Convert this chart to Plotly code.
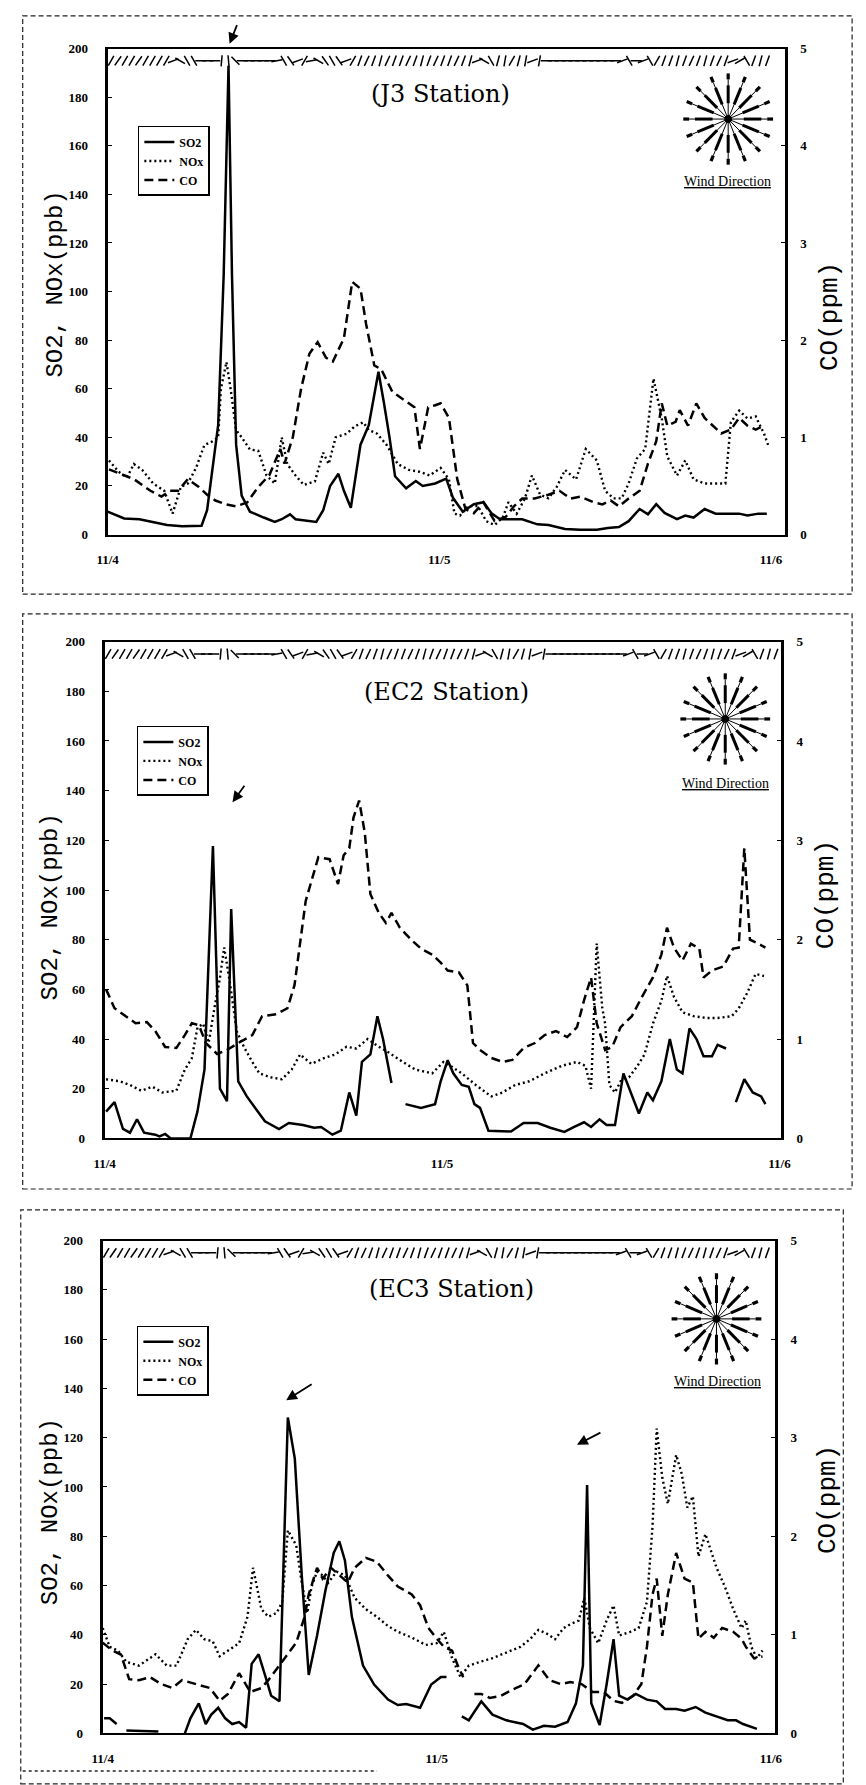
import math
import plotly.graph_objects as go

W, H = 866, 1785

# ---------------- data (hours from 11/4 00:00) ----------------
hour_ticks = [0, 24, 48]
date_labels = ['11/4', '11/5', '11/6']
station_names = ['(J3 Station)', '(EC2 Station)', '(EC3 Station)']

# --- J3 ---
j3_so2_t = [0, 1.2, 2.3, 3.3, 4.3, 5.4, 6.8, 7.2, 8.0, 8.4, 8.75, 9.0, 9.3, 9.7, 10.3, 11.3, 12.1, 12.6, 13.2, 13.6,
            14.4, 15.1, 15.6, 16.1, 16.7, 17.1, 17.6, 18.1, 18.3, 18.9, 19.6, 20.0, 20.4, 20.8, 21.6, 22.3, 22.8, 23.7,
            24.5, 25.0, 25.7, 26.5, 27.2, 27.8, 28.4, 30.0, 31.1, 31.9, 33.1, 34.2, 35.4, 36.2, 37.0, 37.7, 38.5, 39.1,
            39.7, 40.3, 41.2, 41.8, 42.4, 43.2, 44.0, 44.7, 45.7, 46.3, 47.1, 47.7]
j3_so2 = [9.4, 6.6, 6.3, 5.2, 3.9, 3.4, 3.6, 10, 45, 107, 193, 107, 37, 16, 9.4, 7, 5.2, 6.3, 8.3, 6.3,
          5.8, 5.2, 10, 20, 25, 18, 11, 29, 37, 45, 67, 54, 40, 24, 19, 22, 20, 21,
          23, 15, 9.4, 12.5, 13.3, 8.6, 6.3, 6.3, 4.2, 3.9, 2.3, 2, 2, 2.7, 3.1, 5.5, 10.5, 8.3,
          12.5, 8.9, 6.3, 7.8, 7, 10.5, 8.6, 8.6, 8.6, 7.8, 8.6, 8.6]
j3_nox_t = [0.1, 0.8, 1.4, 1.9, 2.5, 3.3, 4.1, 4.7, 5.3, 5.8, 6.4, 7.0, 7.6, 8.0, 8.2, 8.6, 8.9, 9.3, 9.7, 10.3,
            10.9, 11.5, 12.1, 12.6, 13.0, 13.6, 14.2, 15.0, 15.6, 16.0, 16.5, 17.3, 17.9, 18.5, 18.9, 19.5, 20.2, 21.0,
            21.8, 22.6, 23.3, 24.1, 24.7, 25.1, 25.5, 26.1, 26.8, 27.4, 28.0, 28.6, 29.0, 29.6, 30.2, 30.7, 31.3, 31.9,
            32.5, 33.1, 33.9, 34.6, 35.4, 36.0, 36.6, 37.2, 37.7, 38.3, 38.9, 39.5, 40.1, 40.5, 41.2, 41.8, 42.4, 43.2,
            44.0, 44.7, 45.1, 45.7, 46.3, 46.9, 47.5, 47.8]
j3_nox = [30.5, 25.8, 23.5, 29, 26.6, 21, 18, 8.6, 19.6, 21, 27.4, 36.8, 38.4, 40, 60, 71, 60, 43, 40, 35,
          34.5, 24.3, 21, 40, 29, 24.3, 20.4, 21.9, 33.7, 29, 40, 41.5, 44.6, 46.2, 43, 41.5, 36.8, 29,
          26.6, 25.8, 24.3, 27.4, 22.7, 8.6, 7.8, 11.7, 11.7, 5.5, 3.9, 7, 13.3, 8.6, 14.9, 24.3, 16.4, 14.9,
          19.6, 26.6, 22.7, 35.2, 30.5, 18, 14.9, 14.9, 21, 31.3, 35.2, 64.2, 47.8, 32.1, 24.3, 30.5, 22.7, 21,
          21, 21, 46.2, 51, 47.8, 48.6, 41.5, 36.8]
j3_co_t = [0.1, 0.8, 1.9, 3.1, 3.9, 4.5, 5.1, 5.8, 6.6, 7.2, 7.8, 8.6, 9.3, 10.1, 10.9, 11.7, 12.5, 12.8, 13.4, 14.0,
           14.6, 15.2, 15.8, 16.3, 17.1, 17.7, 18.3, 18.7, 19.3, 19.8, 20.6, 21.4, 22.2, 22.6, 23.2, 23.7, 24.1, 24.7,
           25.3, 25.9, 26.5, 27.2, 28.0, 28.8, 29.4, 30.0, 30.9, 31.9, 32.7, 33.5, 34.2, 35.2, 35.8, 36.4, 37.0, 37.7,
           38.5, 39.1, 39.7, 40.1, 40.5, 41.1, 41.4, 42.0, 42.6, 43.2, 43.8, 44.4, 45.1, 45.7, 46.3, 46.9, 47.5]
j3_co = [0.67, 0.63, 0.57, 0.45, 0.39, 0.45, 0.45, 0.57, 0.49, 0.41, 0.35, 0.31, 0.29, 0.33, 0.49, 0.61, 0.88, 0.73, 1.0, 1.5,
         1.86, 1.98, 1.82, 1.78, 2.02, 2.6, 2.53, 2.17, 1.74, 1.7, 1.47, 1.39, 1.31, 0.88, 1.31, 1.33, 1.35, 1.2,
         0.57, 0.26, 0.22, 0.33, 0.14, 0.18, 0.29, 0.37, 0.37, 0.41, 0.45, 0.37, 0.39, 0.33, 0.31, 0.35, 0.29, 0.37,
         0.45, 0.73, 0.96, 1.35, 1.12, 1.16, 1.28, 1.12, 1.35, 1.2, 1.12, 1.04, 1.08, 1.2, 1.12, 1.08, 1.12]

# --- EC2 ---
ec2_so2_t = [0.1, 0.7, 1.3, 1.8, 2.3, 2.8, 3.6, 3.9, 4.3, 4.7, 6.1, 6.6, 7.1, 7.7, 8.2, 8.7, 9.0, 9.5, 10.1, 10.7,
             11.4, 12.4, 13.1, 14.1, 14.9, 15.4, 16.2, 16.8, 17.4, 17.9, 18.3, 18.9, 19.4, 19.8, 20.4, None,
             21.4, 22.5, 23.5, 23.9, 24.4, 24.8, 25.4, 25.9, 26.3, 26.7, 27.3, 28.1, 28.9, 29.8, 30.8, 31.7, 32.7,
             33.4, 34.1, 34.6, 35.2, 35.7, 36.3, 36.9, 37.5, 38.0, 38.6, 39.0, 39.6, 40.2, 40.7, 41.1, 41.6, 42.1,
             42.6, 43.2, 43.6, 44.2, None, 44.9, 45.5, 46.1, 46.7, 47.0]
ec2_so2 = [10.8, 14.6, 3.8, 2.3, 7.7, 2.3, 1.5, 0.8, 1.8, 0, 0, 10.8, 27.7, 117.7, 20, 15, 92.3, 23, 17, 12.3,
           6.9, 3.8, 6.2, 5.4, 4.3, 4.6, 1.5, 3.1, 18.5, 9.2, 30.8, 33.8, 49.2, 40, 22.3, None,
           13.8, 12.3, 13.8, 23, 31.5, 26.2, 21.5, 20.8, 13.8, 12.3, 3.1, 2.8, 2.8, 6.2, 6.2, 4.3, 2.6,
           4.6, 6.5, 4.6, 7.7, 5.4, 5.4, 26.2, 16.9, 10, 18.5, 15.4, 23, 40, 27.7, 26.2, 44.3, 40,
           33.1, 33.1, 37.7, 36.2, None, 14.6, 23.8, 18.5, 16.9, 13.8]
ec2_nox_t = [0.1, 1.1, 1.8, 2.6, 3.4, 4.1, 5.1, 5.7, 6.2, 6.6, 7.0, 7.4, 7.8, 8.2, 8.5, 8.9, 9.4, 9.9, 10.5, 11.0,
             11.8, 12.6, 13.3, 13.9, 14.7, 15.6, 16.4, 17.2, 17.9, 18.7, 19.5, 20.2, 21.2, 22.1, 23.3, 24.1, 24.6,
             25.4, 26.4, 27.5, 28.3, 29.2, 30.2, 31.3, 32.5, 33.6, 34.2, 34.6, 35.0, 35.4, 35.6, 35.9, 36.3, 36.7,
             37.3, 37.9, 38.4, 39.0, 39.6, 40.0, 40.5, 41.1, 41.9, 42.8, 43.6, 44.6, 45.1, 45.7, 46.3, 46.9]
ec2_nox = [23.8, 23, 21.5, 19.2, 20.8, 18.5, 19.2, 27.7, 32.3, 44.6, 46.2, 38.5, 52.3, 64.6, 76.9, 63, 43, 36.9, 30.8, 26.2,
           24.6, 23.8, 27.7, 33.8, 30, 32.3, 33.8, 36.9, 36.2, 40, 36.9, 34.6, 30.8, 27.7, 26.2, 30.8, 29.2,
           26.2, 21.5, 16.9, 18.5, 21.5, 23, 26.2, 29.2, 30.8, 29.2, 20, 78.5, 52.3, 46.2, 21.5, 18.5, 23,
           24.6, 29.2, 33.8, 46.2, 55.4, 65.4, 56.9, 50.8, 49.2, 48.5, 48.5, 49.2, 52.3, 58.5, 66.2, 65.4]
ec2_co_t = [0.1, 0.7, 1.5, 2.2, 3.0, 3.6, 4.3, 5.1, 5.7, 6.2, 6.7, 7.2, 8.0, 8.7, 9.5, 10.5, 11.2, 12.2, 13.0, 13.5,
            14.3, 14.9, 15.2, 16.0, 16.6, 17.0, 17.4, 17.7, 18.1, 18.5, 18.9, 19.5, 20.0, 20.4, 21.0, 21.8, 22.5,
            23.3, 23.9, 24.4, 25.2, 25.8, 26.2, 26.7, 27.5, 28.3, 29.0, 29.8, 30.6, 31.3, 32.1, 32.9, 33.6, 34.1,
            34.6, 35.0, 35.6, 36.1, 36.7, 37.5, 38.2, 39.0, 39.6, 40.0, 40.5, 41.1, 41.7, 42.3, 42.6, 43.2, 44.0,
            44.7, 45.1, 45.5, 45.9, 46.5, 47.0]
ec2_co = [1.5, 1.31, 1.23, 1.16, 1.17, 1.08, 0.92, 0.91, 1.04, 1.16, 1.14, 0.96, 0.85, 0.89, 0.96, 1.04, 1.23, 1.25, 1.31, 1.54,
          2.39, 2.69, 2.83, 2.81, 2.56, 2.85, 2.92, 3.23, 3.4, 3.08, 2.46, 2.27, 2.17, 2.27, 2.12, 2.0, 1.91,
          1.85, 1.77, 1.69, 1.67, 1.54, 0.96, 0.89, 0.81, 0.77, 0.79, 0.91, 0.96, 1.04, 1.08, 1.02, 1.12, 1.39,
          1.62, 1.16, 0.89, 0.92, 1.12, 1.23, 1.42, 1.62, 1.85, 2.12, 1.92, 1.79, 1.96, 1.91, 1.62, 1.69, 1.73,
          1.91, 1.92, 2.92, 2.0, 1.96, 1.92]

# --- EC3 ---
ec3_so2_t = [0.1, 0.5, 1.0, None, 1.7, 2.5, 4.0, None,
             5.9, 6.3, 6.9, 7.4, 7.8, 8.3, 8.8, 9.3, 9.8, 10.3, 10.7, 11.2, 11.7, 12.1, 12.7, 13.3, 13.8, 14.3,
             14.8, 15.4, 16.0, 16.6, 17.0, 17.4, 17.9, 18.7, 19.5, 20.5, 21.2, 21.8, 22.8, 23.6, 24.3, 24.7, None,
             25.8, 26.3, 27.2, 28.0, 29.0, 30.2, 30.9, 31.7, 32.5, 33.4, 34.0, 34.5, 34.8, 35.1, 35.7, 36.2, 36.7,
             37.1, 37.7, 38.3, 39.1, 39.8, 40.4, 41.2, 41.8, 42.6, 43.3, 44.1, 44.9, 45.5, 46.0, 47.0]
ec3_so2 = [6.1, 6.1, 3.8, None, 1.2, 1.0, 0.8, None,
           0, 6.1, 12.2, 3.8, 7.6, 10.4, 6.1, 3.8, 4.6, 2.3, 28.2, 32.1, 22.9, 15.3, 13, 128.2, 111.5, 64.1,
           23.7, 39.7, 58, 73.3, 77.9, 70.2, 47.3, 27.5, 19.8, 13.7, 11.5, 11.9, 10.4, 19.8, 22.9, 22.9, None,
           6.9, 5.3, 13, 7.6, 5.3, 3.8, 1.5, 3.1, 2.7, 4.6, 12.2, 27.5, 100.8, 12.2, 3.4, 19.8, 38.2,
           15.3, 13.7, 16, 13.7, 13, 9.9, 9.9, 9.2, 10.7, 8.4, 6.9, 5.3, 5.3, 3.8, 1.8]
ec3_nox_t = [0, 0.5, 1.1, 1.7, 2.6, 3.8, 4.6, 5.3, 6.1, 6.7, 7.3, 7.9, 8.4, 9.0, 9.8, 10.4, 10.8, 11.4, 11.9, 12.5,
             12.9, 13.3, 13.9, 14.3, 14.7, 15.0, 15.4, 15.8, 16.2, 16.8, 17.4, 18.1, 18.9, 19.7, 20.5, 21.2, 22.2,
             23.2, 24.0, 24.5, 25.1, 25.7, 26.3, 27.1, 28.0, 29.0, 30.0, 30.7, 31.3, 31.9, 32.5, 33.1, 33.6, 34.2,
             34.6, 35.0, 35.6, 36.2, 36.7, 37.1, 37.9, 38.5, 39.1, 39.5, 39.8, 40.2, 40.6, 41.2, 41.6, 42.0, 42.4,
             42.8, 43.3, 44.1, 44.7, 45.3, 45.9, 46.2, 46.6, 47.0, 47.4]
ec3_nox = [42.7, 35.1, 33.6, 29, 27.5, 32.1, 27.5, 27.5, 38.2, 42, 38.2, 37.4, 31.3, 33.6, 36.6, 47.3, 67.2, 50.4, 47.3, 48.9,
           53.4, 82.4, 76.3, 61.1, 48.9, 59.5, 65.6, 64.1, 61.1, 65.6, 64.1, 55, 50.4, 47.3, 43.5, 41.2, 38.9,
           35.9, 36.6, 41.2, 30.5, 22.9, 27.5, 29, 30.5, 32.8, 35.1, 38.2, 42, 40.5, 38.2, 42.7, 44.3, 45.8,
           55, 42.7, 36.6, 45.8, 51.9, 39.7, 41.2, 42.7, 53.4, 84, 123.7, 103.8, 93.1, 113, 105.3, 91.6, 96.2,
           71.8, 80.9, 67.2, 59.5, 50.4, 42.7, 45.8, 35.1, 30.5, 33.6]
ec3_co_t = [0, 0.7, 1.3, 1.9, 2.6, 3.4, 4.2, 5.0, 5.7, 6.7, 7.7, 8.4, 9.0, 9.8, 10.6, 11.4, 11.9, 12.7, 13.5, 13.9,
            14.5, 14.8, 15.4, 15.8, 16.4, 17.0, 17.6, 18.1, 18.9, 19.7, 20.5, 21.2, 22.2, 22.8, 23.4, 24.0, 24.5,
            25.1, 25.5, 25.9, None,
            26.7, 27.2, 27.8, 28.6, 29.4, 30.3, 31.3, 32.1, 32.9, 33.6, 34.4, 35.2, 36.0, 36.7, 37.3, 38.1, 38.7,
            39.1, 39.5, 39.8, 40.2, 40.6, 41.2, 41.8, 42.4, 42.8, 43.3, 43.9, 44.5, 45.3, 45.9, 46.2, 46.8, 47.4]
ec3_co = [0.92, 0.84, 0.8, 0.55, 0.54, 0.57, 0.5, 0.46, 0.54, 0.5, 0.46, 0.33, 0.4, 0.61, 0.42, 0.46, 0.54, 0.69, 0.84, 0.92,
          1.18, 1.41, 1.68, 1.57, 1.68, 1.6, 1.53, 1.68, 1.78, 1.74, 1.6, 1.49, 1.41, 1.3, 1.07, 0.96, 0.88,
          0.84, 0.69, 0.57, None,
          0.4, 0.4, 0.36, 0.38, 0.44, 0.5, 0.69, 0.54, 0.5, 0.52, 0.5, 0.42, 0.42, 0.33, 0.31, 0.38, 0.5,
          0.88, 1.41, 1.57, 0.99, 1.41, 1.83, 1.57, 1.53, 0.96, 1.03, 0.97, 1.07, 1.03, 0.96, 0.88, 0.76, 0.78]

# wind direction strokes along the top (half-hourly), angle of stroke in degrees
wind_angle = [30, 35, 30, 30, 35, 30, 30, 30, 30, 70, -60, -30, -30, 90, 90, 90, 5, -5, -45,
              90, 90, 90, 90, 90, 80, -30, -35, 70, 30, 80, -60, -35, -30, -35, 70, 30,
              20, 25, 20, 15, 25, 20, 20, 25, 20, 15, 20, 25, 20, 20, 25, 20, 15, 70, -60, -30,
              15, 10, 30, 15, 10, 70, 10, 90, 90, 90, 90, 90, 90, 90, 90, 90, 90, 90,
              70, -30, 90, 70, -30, 30, 20, 20, 15, 20, 25, 20, 15, 20, 25, 20, 70, 60, -30, 20, 15, 20]
wind_t = [0.25 + 0.5 * i for i in range(len(wind_angle))]
WIND_ROW = 195

series = [
    dict(so2=(j3_so2_t, j3_so2), nox=(j3_nox_t, j3_nox), co=(j3_co_t, j3_co), xr=[0, 49]),
    dict(so2=(ec2_so2_t, ec2_so2), nox=(ec2_nox_t, ec2_nox), co=(ec2_co_t, ec2_co), xr=[0, 48.1]),
    dict(so2=(ec3_so2_t, ec3_so2), nox=(ec3_nox_t, ec3_nox), co=(ec3_co_t, ec3_co), xr=[0, 48.3]),
]


# ---------------- layout (pixel geometry) ----------------
def PX(x):
    return x / W


def PY(y):
    return 1 - y / H


geom = [
    dict(plot=(99, 42, 793, 532), title=(440, 88), rose=(735, 113), wtxt=(734, 176), leg=(130, 120),
         ltitle=(46, 279), rtitle=(840, 312), arrows=[(224, 37, 8, -20)], box=(12, 9, 862, 592)),
    dict(plot=(96, 640, 789, 1141), title=(446, 691), rose=(732, 718), wtxt=(732, 783), leg=(129, 725),
         ltitle=(40, 908), rtitle=(836, 895), arrows=[(227, 802, 13, -18)], box=(12, 612, 862, 1192)),
    dict(plot=(94, 1244, 783, 1741), title=(451, 1293), rose=(723, 1323), wtxt=(724, 1386), leg=(129, 1330),
         ltitle=(40, 1518), rtitle=(838, 1505), arrows=[(282, 1405, 27, -17), (580, 1450, 25, -13)],
         box=(10, 1213, 853, 1792)),
]

fig = go.Figure()
serif = 'Liberation Serif'
tickfont = dict(family=serif, size=13, color='black', weight='bold')
legnames = ['legend', 'legend2', 'legend3']
shapes = []
annotations = []

for i, (s, g) in enumerate(zip(series, geom)):
    n = i + 1
    xa = 'x' if n == 1 else f'x{n}'
    ya = 'y' if n == 1 else f'y{n}'
    yr = f'y{n + 3}'
    lg = legnames[i]
    fig.add_trace(go.Scatter(x=s['so2'][0], y=s['so2'][1], name='SO2', mode='lines',
                             line=dict(color='black', width=2.5), xaxis=xa, yaxis=ya, legend=lg,
                             connectgaps=False))
    fig.add_trace(go.Scatter(x=s['nox'][0], y=s['nox'][1], name='NOx', mode='lines',
                             line=dict(color='black', width=2.4, dash='2px,3px'), xaxis=xa, yaxis=ya, legend=lg))
    fig.add_trace(go.Scatter(x=s['co'][0], y=s['co'][1], name='CO', mode='lines',
                             line=dict(color='black', width=2.5, dash='9px,5px'), xaxis=xa, yaxis=yr, legend=lg,
                             connectgaps=False))
    fig.add_trace(go.Scatter(x=wind_t, y=[WIND_ROW] * len(wind_t), mode='markers', showlegend=False,
                             marker=dict(symbol='line-ns', size=8, angle=wind_angle,
                                         line=dict(width=1.5, color='black')),
                             xaxis=xa, yaxis=ya, hoverinfo='skip'))

    x0, y0, x1, y1 = g['plot']
    xkey = 'xaxis' if n == 1 else f'xaxis{n}'
    ykey = 'yaxis' if n == 1 else f'yaxis{n}'
    fig.layout[xkey] = dict(domain=[PX(x0), PX(x1)], range=s['xr'], anchor=ya,
                            tickvals=hour_ticks, ticktext=date_labels, ticks='',
                            showline=True, linewidth=2, linecolor='black', mirror=True,
                            showgrid=False, zeroline=False, tickfont=tickfont, ticklabelstandoff=12)
    fig.layout[ykey] = dict(domain=[PY(y1), PY(y0)], range=[0, 200], dtick=20, anchor=xa,
                            showline=True, linewidth=3, linecolor='black', ticks='inside', ticklen=4,
                            tickcolor='black', showgrid=False, zeroline=False, tickfont=tickfont,
                            ticklabelstandoff=14)
    fig.layout[f'yaxis{n + 3}'] = dict(overlaying=ya, side='right', anchor=xa, range=[0, 5], dtick=1,
                                       showline=True, linewidth=3, linecolor='black', ticks='inside',
                                       ticklen=4, tickcolor='black', showgrid=False, zeroline=False,
                                       tickfont=tickfont, ticklabelstandoff=10)
    lx, ly = g['leg']
    fig.layout[lg] = dict(x=PX(lx), y=PY(ly), xanchor='left', yanchor='top', bgcolor='white',
                          bordercolor='black', borderwidth=1.5,
                          font=dict(family=serif, size=12, color='black', weight='bold'),
                          itemwidth=30, tracegroupgap=0)

    # station title
    tx, ty = g['title']
    annotations.append(dict(x=PX(tx), y=PY(ty), xref='paper', yref='paper', text=station_names[i],
                            showarrow=False, font=dict(family='DejaVu Serif', size=24, color='black'),
                            xanchor='center', yanchor='middle'))
    # axis titles
    ax_, ay_ = g['ltitle']
    annotations.append(dict(x=PX(ax_), y=PY(ay_), xref='paper', yref='paper', text='SO2, NOx(ppb)',
                            textangle=-90, showarrow=False,
                            font=dict(family='Liberation Mono', size=24, color='black'),
                            xanchor='center', yanchor='middle'))
    rx, ry = g['rtitle']
    annotations.append(dict(x=PX(rx), y=PY(ry), xref='paper', yref='paper', text='CO(ppm)',
                            textangle=-90, showarrow=False,
                            font=dict(family='Liberation Mono', size=26, color='black'),
                            xanchor='center', yanchor='middle'))
    # wind direction label
    wx, wy = g['wtxt']
    annotations.append(dict(x=PX(wx), y=PY(wy), xref='paper', yref='paper', text='<u>Wind Direction</u>',
                            showarrow=False, font=dict(family=serif, size=14, color='black'),
                            xanchor='center', yanchor='middle'))
    # arrows
    for (hx, hy, dx, dy) in g['arrows']:
        annotations.append(dict(x=PX(hx), y=PY(hy), xref='paper', yref='paper', text='', showarrow=True,
                                ax=dx, ay=dy, arrowhead=2, arrowsize=1.2, arrowwidth=1.8, arrowcolor='black'))
    # wind rose icon: thin spokes with thick outer dashes
    cx, cy = g['rose']
    for k in range(16):
        a = math.radians(k * 22.5)
        sx, sy = math.sin(a), -math.cos(a)
        shapes.append(dict(type='line', xref='paper', yref='paper', x0=PX(cx), y0=PY(cy),
                           x1=PX(cx + 40 * sx), y1=PY(cy + 40 * sy), line=dict(color='black', width=1)))
        shapes.append(dict(type='line', xref='paper', yref='paper', x0=PX(cx + 16 * sx), y0=PY(cy + 16 * sy),
                           x1=PX(cx + 34 * sx), y1=PY(cy + 34 * sy), line=dict(color='black', width=3)))
        shapes.append(dict(type='line', xref='paper', yref='paper', x0=PX(cx + 40 * sx), y0=PY(cy + 40 * sy),
                           x1=PX(cx + 46 * sx), y1=PY(cy + 46 * sy), line=dict(color='black', width=3.2)))
    shapes.append(dict(type='circle', xref='paper', yref='paper', x0=PX(cx - 3.5), y0=PY(cy - 3.5),
                       x1=PX(cx + 3.5), y1=PY(cy + 3.5), fillcolor='black', line=dict(color='black', width=1)))
    # outer dashed frame
    bx0, by0, bx1, by1 = g['box']
    shapes.append(dict(type='rect', xref='paper', yref='paper', x0=PX(bx0), y0=PY(by1), x1=PX(bx1), y1=PY(by0),
                       line=dict(color='#222222', width=1.2, dash='5px,3px')))

shapes.append(dict(type='line', xref='paper', yref='paper', x0=PX(12), y0=PY(1779), x1=PX(375), y1=PY(1779),
                   line=dict(color='#222222', width=1.5, dash='3px,3px')))

fig.update_layout(width=W, height=H, margin=dict(l=0, r=0, t=0, b=0), paper_bgcolor='white',
                  plot_bgcolor='white', shapes=shapes, annotations=annotations, showlegend=True)

fig.write_html('out.html', config={'displayModeBar': False},
               post_script="document.body.style.margin='0px';document.body.style.overflow='hidden';")
